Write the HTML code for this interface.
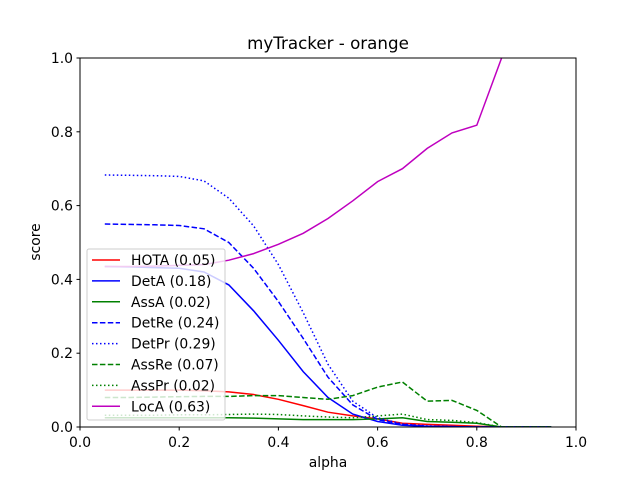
<!DOCTYPE html>
<html><head><meta charset="utf-8"><style>
body{margin:0;background:#fff;font-family:"Liberation Sans","DejaVu Sans",sans-serif}
svg text{font-family:"DejaVu Sans","Liberation Sans",sans-serif}
</style></head><body>
<svg id="chart" width="640" height="480" xmlns="http://www.w3.org/2000/svg">
<defs><clipPath id="clip"><rect x="80" y="58" width="496" height="369"/></clipPath></defs>
<rect width="640" height="480" fill="#fff"/>
<g id="plot" clip-path="url(#clip)"></g>
<g id="axes"></g>
</svg>
<script>
const alphas=[0.05,0.1,0.15,0.2,0.25,0.3,0.35,0.4,0.45,0.5,0.55,0.6,0.65,0.7,0.75,0.8,0.85,0.9,0.95];
const hota=[0.1,0.1,0.1,0.1,0.098,0.095,0.088,0.075,0.058,0.04,0.03,0.022,0.01,0.007,0.005,0.002,0,0,0];
const detA=[0.435,0.434,0.432,0.43,0.42,0.385,0.315,0.235,0.15,0.08,0.035,0.015,0.005,0.002,0.001,0,0,0,0];
const assA=[0.025,0.025,0.025,0.025,0.025,0.025,0.024,0.022,0.02,0.02,0.02,0.022,0.025,0.015,0.013,0.01,0,0,0];
const detRe=[0.55,0.549,0.548,0.546,0.537,0.5,0.43,0.34,0.24,0.135,0.06,0.02,0.007,0.002,0.001,0,0,0,0];
const detPr=[0.683,0.682,0.681,0.679,0.667,0.62,0.545,0.44,0.31,0.17,0.07,0.025,0.008,0.003,0.001,0,0,0,0];
const assRe=[0.08,0.08,0.081,0.082,0.083,0.083,0.085,0.085,0.08,0.075,0.085,0.108,0.122,0.07,0.072,0.045,0,0,0];
const assPr=[0.032,0.032,0.032,0.033,0.033,0.034,0.035,0.034,0.03,0.027,0.025,0.03,0.035,0.02,0.018,0.012,0,0,0];
const locA=[0.435,0.435,0.436,0.438,0.44,0.452,0.47,0.495,0.525,0.565,0.613,0.665,0.7,0.755,0.797,0.818,1.0];
const seriesNames=["HOTA (0.05)","DetA (0.18)","AssA (0.02)","DetRe (0.24)","DetPr (0.29)","AssRe (0.07)","AssPr (0.02)","LocA (0.63)"];
const xTicks=[0,0.2,0.4,0.6,0.8,1.0];
const yTicks=[0,0.2,0.4,0.6,0.8,1.0];
const NS="http://www.w3.org/2000/svg";
const X=v=>80+v*496, Y=v=>427-v*369;
const plot=document.getElementById('plot'), axes=document.getElementById('axes');
function mk(t,a,p){const e=document.createElementNS(NS,t);for(const k in a)e.setAttribute(k,a[k]);p.appendChild(e);return e;}
const series=[[hota,'#ff0000',''],[detA,'#0000ff',''],[assA,'#008000',''],[detRe,'#0000ff','5.5,2.4'],[detPr,'#0000ff','1.5,2.5'],[assRe,'#008000','5.5,2.4'],[assPr,'#008000','1.5,2.5'],[locA,'#bf00bf','']];
const keys=['hota','deta','assa','detre','detpr','assre','asspr','loca'];
series.forEach((s,i)=>{
 const d=s[0].map((v,j)=>(j?'L':'M')+X(alphas[j]).toFixed(1)+','+Y(v).toFixed(1)).join('');
 const p=mk('path',{d:d,fill:'none',stroke:s[1],'stroke-width':1.5,'stroke-dasharray':s[2]||'none'},plot);
 
 
});
mk('rect',{x:80,y:58,width:496,height:369,fill:'none',stroke:'#000','stroke-width':1},axes);
xTicks.forEach(t=>{mk('line',{x1:X(t),x2:X(t),y1:427,y2:430.5,stroke:'#000'},axes);
 const tx=mk('text',{x:X(t),y:447,'text-anchor':'middle','font-size':13.9,fill:'#000'},axes);tx.textContent=t.toFixed(1);
 
 });
yTicks.forEach(t=>{mk('line',{x1:76.5,x2:80,y1:Y(t),y2:Y(t),stroke:'#000'},axes);
 const tx=mk('text',{x:73,y:Y(t)+5,'text-anchor':'end','font-size':13.9,fill:'#000'},axes);tx.textContent=t.toFixed(1);
 
 });
let t=mk('text',{x:328,y:49,'text-anchor':'middle','font-size':16.7},axes);t.textContent='myTracker - orange';


t=mk('text',{x:328,y:467,'text-anchor':'middle','font-size':13.9},axes);t.textContent='alpha';


t=mk('text',{x:40,y:242,'text-anchor':'middle','font-size':13.9,transform:'rotate(-90 40 242)'},axes);t.textContent='score';


const lg=mk('g',{},axes);


mk('rect',{x:87,y:249,width:138,height:171,rx:2,fill:'#fff','fill-opacity':0.8,stroke:'#ccc'},lg);
series.forEach((s,i)=>{const y=260+i*20.9;
 mk('line',{x1:92,x2:120,y1:y,y2:y,stroke:s[1],'stroke-width':1.5,'stroke-dasharray':s[2]||'none'},lg);
 const tx=mk('text',{x:131,y:y+5,'font-size':13.9},lg);tx.textContent=seriesNames[i];
 
 });
</script>
</body></html>
